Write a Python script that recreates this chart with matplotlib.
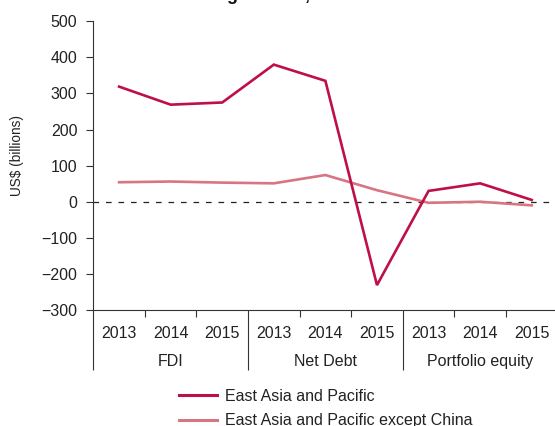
import matplotlib
matplotlib.use("Agg")
import matplotlib.pyplot as plt
from matplotlib.lines import Line2D
import matplotlib.transforms as mtransforms

plt.rcParams['font.family'] = ['Liberation Sans', 'DejaVu Sans']

# ---- data ----
groups = ["FDI", "Net Debt", "Portfolio equity"]
years = ["2013", "2014", "2015"]
east_asia_pacific = [319, 269, 275, 380, 335, -231, 30, 51, 5]
eap_except_china = [54, 56, 53, 51, 74, 32, -3, 0, -10]
series_names = ["East Asia and Pacific", "East Asia and Pacific except China"]
y_ticks = [-300, -200, -100, 0, 100, 200, 300, 400, 500]
title_text = "Net financing inflows, 2013\u201315"

W, H = 555, 426
DPI = 100
fig = plt.figure(figsize=(W / DPI, H / DPI), dpi=DPI)

ax_left_px, ax_right_px = 93.3, 557.5
ax_top_px, ax_bot_px = 21.3, 310.0
ax = fig.add_axes([ax_left_px / W, 1 - ax_bot_px / H,
                   (ax_right_px - ax_left_px) / W, (ax_bot_px - ax_top_px) / H])

c_dark = "#BE0F48"
c_light = "#D77582"
ink = "#333333"
fs = 11.5

n = len(groups) * len(years)
xs = list(range(n))
ax.plot(xs, east_asia_pacific, color=c_dark, lw=1.9, solid_joinstyle='miter',
        label=series_names[0], zorder=3)
ax.plot(xs, eap_except_china, color=c_light, lw=1.9, solid_joinstyle='miter',
        label=series_names[1], zorder=2)
ax.axhline(0, color="#222222", lw=0.9, ls=(0, (4.5, 5.5)), zorder=1)

ax.set_xlim(-0.5, n - 0.5)
ax.set_ylim(-300, 500)
ax.set_yticks(y_ticks)
ax.set_yticklabels([("\u2212" + str(-v)) if v < 0 else str(v) for v in y_ticks],
                   fontsize=fs, color="#222222")
ax.tick_params(axis='y', direction='out', length=5, width=0.8, color=ink, pad=6.5)

for s in ["top", "right"]:
    ax.spines[s].set_visible(False)
for s in ["left", "bottom"]:
    ax.spines[s].set_color(ink)
    ax.spines[s].set_linewidth(0.8)

minor = [i + 0.5 for i in range(n - 1) if (i + 1) % len(years) != 0]
ax.set_xticks(minor)
ax.set_xticklabels([])
ax.tick_params(axis='x', direction='out', length=5, width=0.8, color=ink)

ax_w_px = ax_right_px - ax_left_px
ax_h_px = ax_bot_px - ax_top_px
ax.set_ylabel("US$ (billions)", fontsize=9.8, color="#222222")
ax.yaxis.set_label_coords((24 - ax_left_px) / ax_w_px, (ax_bot_px - 156) / ax_h_px)

blend = mtransforms.blended_transform_factory(ax.transData, ax.transAxes)
# year labels and group labels
for i in range(n):
    ax.annotate(years[i % len(years)], xy=(i, 0), xycoords=blend,
                xytext=(0, -23 * 72 / DPI), textcoords='offset points',
                ha='center', va='center', fontsize=fs, color="#222222")
for g, name in enumerate(groups):
    xc = g * len(years) + (len(years) - 1) / 2
    ax.annotate(name, xy=(xc, 0), xycoords=blend,
                xytext=(0, -51.5 * 72 / DPI), textcoords='offset points',
                ha='center', va='center', fontsize=fs, color="#222222")
# separators and left spine extension
ext = -60.0 / ax_h_px
for xsep in [-0.5] + [g * len(years) - 0.5 for g in range(1, len(groups))]:
    ax.plot([xsep, xsep], [0, ext], transform=blend, color=ink, lw=0.8,
            clip_on=False, solid_capstyle='butt')

# legend
leg = fig.legend(handles=[Line2D([], [], color=c_dark, lw=2.2),
                          Line2D([], [], color=c_light, lw=2.2)],
                 labels=series_names, loc='upper left',
                 bbox_to_anchor=(179 / W, 1 - 389 / H), frameon=False,
                 fontsize=fs, handlelength=2.35, handletextpad=0.5,
                 labelspacing=0.58, borderpad=0, borderaxespad=0)
for t in leg.get_texts():
    t.set_color("#222222")

# title (cut off at the top edge in the reference)
fig.canvas.draw()
r = fig.canvas.get_renderer()
tmp = fig.text(0, 0, "Net financin", fontsize=13, fontweight='bold')
wpre = tmp.get_window_extent(r).width
tmp2 = fig.text(0, 0, "g", fontsize=13, fontweight='bold')
wg = tmp2.get_window_extent(r).width
tmp.remove(); tmp2.remove()
x_start = 232 - wpre - wg / 2
fig.text(x_start / W, 1 + 0.5 / H, title_text, fontsize=13, fontweight='bold',
         va='baseline', ha='left', color="#111111")

fig.savefig("out.png", dpi=DPI)
